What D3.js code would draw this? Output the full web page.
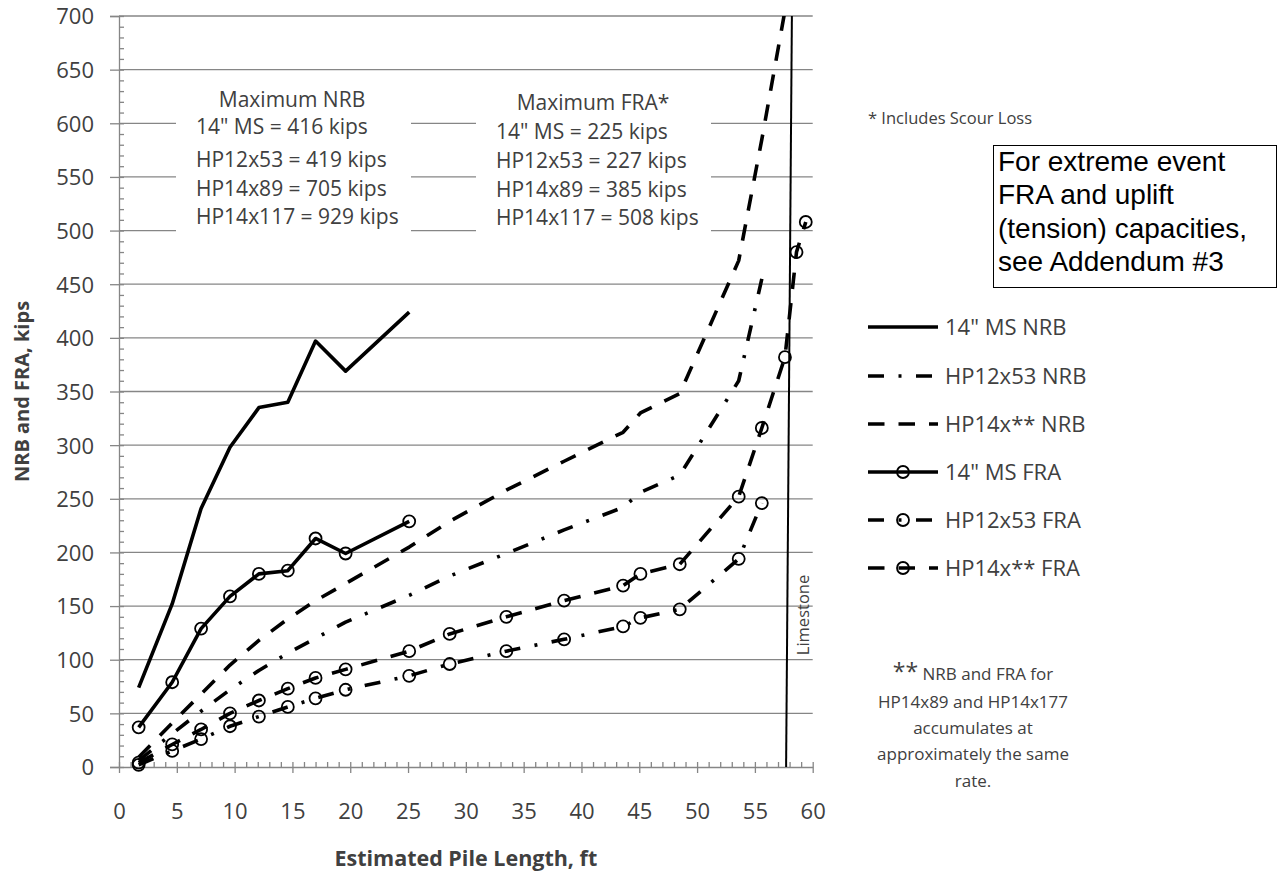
<!DOCTYPE html>
<html>
<head>
<meta charset="utf-8">
<script src="https://cdn.jsdelivr.net/npm/d3@7"></script>
<style>
  body { margin: 0; background: #fff; }
  svg text { font-family: "Open Sans", sans-serif; fill: #404040; }
</style>
</head>
<body>
<svg id="chart" width="1283" height="876"></svg>
<script>
// pile lengths (ft) shared by every series
const pileLength = [1.7, 4.6, 7.1, 9.6, 12.1, 14.6, 17.0, 19.6, 25.1, 28.6,
                    33.5, 38.5, 43.6, 45.1, 48.5, 53.6, 55.6, 57.6, 58.6, 59.4];

// capacities, kips
const msNRB   = [74, 152, 241, 298, 335, 340, 397, 369, 424];
const hp12NRB = [6, 31, 52, 72, 90, 106, 120, 135, 160, 178, 199, 221, 242, 256, 272, 360, 455];
const hp14NRB = [9, 41, 68, 95, 118, 138, 155, 171, 205, 229, 258, 285, 312, 330, 348, 472, 585, 705];
const msFRA   = [37, 79, 129, 159, 180, 183, 213, 199, 229];
const hp12FRA = [2, 15, 26, 38, 47, 56, 64, 72, 85, 96, 108, 119, 131, 139, 147, 194, 246];
const hp14FRA = [4, 21, 35, 50, 62, 73, 83, 91, 108, 124, 140, 155, 169, 180, 189, 252, 316, 382, 480, 508];

const limestoneX = [57.7, 58.2];
const limestoneY = [0, 700];

const yTicks = d3.range(0, 701, 50);
const xTicks = d3.range(0, 61, 5);

const seriesNames = ['14" MS NRB', 'HP12x53 NRB', 'HP14x** NRB', '14" MS FRA', 'HP12x53 FRA', 'HP14x** FRA'];

const nrbNote = ['Maximum NRB', '14" MS = 416 kips', 'HP12x53 = 419 kips', 'HP14x89 = 705 kips', 'HP14x117 = 929 kips'];
const fraNote = ['Maximum FRA*', '14" MS = 225 kips', 'HP12x53 = 227 kips', 'HP14x89 = 385 kips', 'HP14x117 = 508 kips'];
const addendumNote = ['For extreme event', 'FRA and uplift', '(tension) capacities,', 'see Addendum #3'];
const rateNote = ['NRB and FRA for', 'HP14x89 and HP14x177', 'accumulates at', 'approximately the same', 'rate.'];

const DASH = '16.5,14';
const DASH_DOT = '16,14.5,3,14.5';

const series = [
  {name: seriesNames[0], values: msNRB,   dash: null,     marker: false},
  {name: seriesNames[1], values: hp12NRB, dash: DASH_DOT, marker: false},
  {name: seriesNames[2], values: hp14NRB, dash: DASH,     marker: false},
  {name: seriesNames[3], values: msFRA,   dash: null,     marker: true},
  {name: seriesNames[4], values: hp12FRA, dash: DASH_DOT, marker: true},
  {name: seriesNames[5], values: hp14FRA, dash: DASH,     marker: true}
];
series.forEach(s => { s.points = s.values.map((v, i) => ({x: pileLength[i], y: v})); });

const plot = {left: 119, right: 812.7, top: 16, bottom: 767};
const GRID = '#868686';

const svg = d3.select('#chart');

const x = d3.scaleLinear().domain([0, 60]).range([plot.left, plot.right]);
const y = d3.scaleLinear().domain([0, 700]).range([plot.bottom, plot.top]);

svg.append('defs').append('clipPath').attr('id', 'plotClip')
  .append('rect')
  .attr('x', plot.left).attr('y', plot.top)
  .attr('width', plot.right - plot.left).attr('height', plot.bottom - plot.top);

// gridlines
svg.append('g')
  .selectAll('line')
  .data(yTicks.filter(v => v > 0))
  .join('line')
  .attr('x1', plot.left).attr('x2', plot.right)
  .attr('y1', d => y(d)).attr('y2', d => y(d))
  .attr('stroke', GRID).attr('stroke-width', 1.3);

// white boxes behind the two annotation blocks
svg.append('rect').attr('x', 176).attr('y', 84).attr('width', 235).attr('height', 152).attr('fill', '#fff');
svg.append('rect').attr('x', 476).attr('y', 84).attr('width', 235).attr('height', 152).attr('fill', '#fff');

function styleAxis(g) {
  g.attr('font-family', null).attr('font-size', null);
  g.selectAll('path.domain').attr('stroke', GRID).attr('stroke-width', 1.3);
  g.selectAll('.tick line').attr('stroke', GRID).attr('stroke-width', 1.3);
  g.selectAll('.tick text').attr('fill', '#404040').style('font-size', '22px');
}

// y axis
const gy = svg.append('g').attr('transform', `translate(${plot.left},0)`)
  .call(d3.axisLeft(y).tickValues(yTicks).tickSize(9).tickPadding(16));
styleAxis(gy);
gy.selectAll('.tick text').attr('dy', '0.36em');

const gyMinor = svg.append('g').attr('transform', `translate(${plot.left},0)`)
  .call(d3.axisRight(y).tickValues(d3.range(0, 701, 10)).tickSize(5).tickFormat(''));
styleAxis(gyMinor);
gyMinor.select('path.domain').remove();

// x axis
const gx = svg.append('g').attr('transform', `translate(0,${plot.bottom})`)
  .call(d3.axisBottom(x).tickValues(xTicks).tickSizeInner(6).tickSizeOuter(0));
styleAxis(gx);
gx.selectAll('.tick text').attr('y', 36);

const gxMinor = svg.append('g').attr('transform', `translate(0,${plot.bottom})`)
  .call(d3.axisTop(x).tickValues(d3.range(0, 61, 1)).tickSize(5).tickFormat(''));
styleAxis(gxMinor);
gxMinor.select('path.domain').remove();

// axis titles
svg.append('text')
  .attr('transform', `translate(29,${(plot.top + plot.bottom) / 2}) rotate(-90)`)
  .attr('text-anchor', 'middle')
  .style('font-size', '20px').style('font-weight', 'bold')
  .text('NRB and FRA, kips');

svg.append('text')
  .attr('x', (plot.left + plot.right) / 2).attr('y', 866)
  .attr('text-anchor', 'middle')
  .style('font-size', '21.5px').style('font-weight', 'bold')
  .text('Estimated Pile Length, ft');

// limestone
const limestone = limestoneX.map((v, i) => ({x: v, y: limestoneY[i]}));
svg.append('path')
  .datum(limestone)
  .attr('d', d3.line().x(d => x(d.x)).y(d => y(d.y)))
  .attr('fill', 'none').attr('stroke', '#000').attr('stroke-width', 2);

svg.append('text')
  .attr('transform', `translate(809,615) rotate(-90)`)
  .attr('text-anchor', 'middle')
  .style('font-size', '16.5px')
  .text('Limestone');

// series
const line = d3.line().x(d => x(d.x)).y(d => y(d.y));
const lines = svg.append('g').attr('clip-path', 'url(#plotClip)');
lines.selectAll('path')
  .data(series)
  .join('path')
  .attr('d', d => line(d.points))
  .attr('fill', 'none')
  .attr('stroke', '#000')
  .attr('stroke-width', 3.6)
  .attr('stroke-linejoin', 'round')
  .attr('stroke-dasharray', d => d.dash);

svg.append('g')
  .selectAll('g')
  .data(series.filter(s => s.marker))
  .join('g')
  .selectAll('circle')
  .data(d => d.points)
  .join('circle')
  .attr('cx', d => x(d.x)).attr('cy', d => y(d.y))
  .attr('r', 6)
  .attr('fill', 'none').attr('stroke', '#000').attr('stroke-width', 1.8);

// annotation blocks
function noteBlock(lines, centerX, leftX, ys) {
  const g = svg.append('g').style('font-size', '21px');
  g.append('text').attr('x', centerX).attr('y', ys[0]).attr('dy', '0.35em')
    .attr('text-anchor', 'middle').text(lines[0]);
  lines.slice(1).forEach((t, i) => {
    g.append('text').attr('x', leftX).attr('y', ys[i + 1]).attr('dy', '0.35em').text(t);
  });
}
noteBlock(nrbNote, 292, 196, [100, 127, 160, 189, 217]);
noteBlock(fraNote, 593, 496, [103, 132, 161, 190, 218]);

svg.append('text').attr('x', 868).attr('y', 124)
  .style('font-size', '16.5px').text('* Includes Scour Loss');

// addendum box
svg.append('rect').attr('x', 993.5).attr('y', 145.5).attr('width', 283).attr('height', 142)
  .attr('fill', '#fff').attr('stroke', '#000').attr('stroke-width', 1);
const addG = svg.append('g');
addendumNote.forEach((t, i) => {
  addG.append('text').attr('x', 998).attr('y', 171 + i * 33.3)
    .style('font-family', '"Liberation Sans", Arial, sans-serif')
    .style('font-size', '28px').style('fill', '#000')
    .text(t);
});

// legend
const legendY = [327, 376, 424, 472, 520, 568];
const legend = svg.append('g')
  .selectAll('g')
  .data(series)
  .join('g')
  .attr('transform', (d, i) => `translate(0,${legendY[i]})`);
legend.append('line')
  .attr('x1', 868).attr('x2', 938).attr('y1', 0).attr('y2', 0)
  .attr('stroke', '#000').attr('stroke-width', 3.6)
  .attr('stroke-dasharray', d => d.dash);
legend.filter(d => d.marker).append('circle')
  .attr('cx', 903).attr('cy', 0).attr('r', 6)
  .attr('fill', 'none').attr('stroke', '#000').attr('stroke-width', 1.8);
legend.append('text')
  .attr('x', 945).attr('y', 0).attr('dy', '0.36em')
  .style('font-size', '22px')
  .text(d => d.name);

// ** note
const rateG = svg.append('g').attr('text-anchor', 'middle').style('font-size', '17px');
const first = rateG.append('text').attr('x', 973).attr('y', 680);
first.append('tspan').style('font-size', '23px').text('**');
first.append('tspan').text(' ' + rateNote[0]);
rateNote.slice(1).forEach((t, i) => {
  rateG.append('text').attr('x', 973).attr('y', [708, 734, 760, 787][i]).text(t);
});
</script>
</body>
</html>
